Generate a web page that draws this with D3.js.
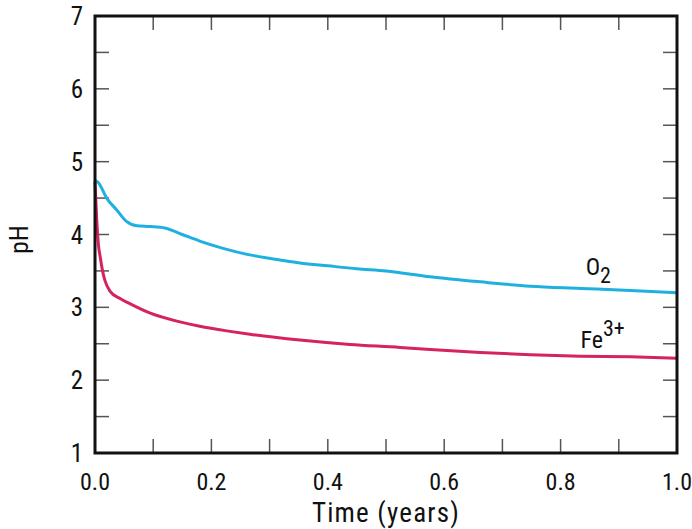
<!DOCTYPE html>
<html>
<head>
<meta charset="utf-8">
<script src="https://cdn.jsdelivr.net/npm/d3@7"></script>
<style>
  body { margin: 0; background: #fff; }
  text { font-family: "Liberation Sans Narrow", "Roboto Condensed", "Arial Narrow", sans-serif; fill: #111; }
</style>
</head>
<body>
<script>
// time (years) vs pH
var o2Time = [0, 0.005, 0.02, 0.037, 0.054, 0.072, 0.095, 0.12, 0.15, 0.18, 0.22, 0.266, 0.31, 0.352, 0.4, 0.45, 0.5, 0.576, 0.662, 0.748, 0.834, 0.92, 1.0];
var o2PH   = [4.74, 4.72, 4.50, 4.34, 4.18, 4.12, 4.11, 4.09, 4.0, 3.91, 3.81, 3.72, 3.66, 3.61, 3.57, 3.53, 3.50, 3.42, 3.35, 3.29, 3.26, 3.23, 3.20];

var feTime = [0, 0.003, 0.006, 0.009, 0.013, 0.017, 0.026, 0.043, 0.06, 0.095, 0.146, 0.18, 0.232, 0.266, 0.352, 0.438, 0.524, 0.576, 0.662, 0.748, 0.834, 0.92, 1.0];
var fePH   = [4.72, 4.2, 3.85, 3.69, 3.5, 3.37, 3.22, 3.12, 3.05, 2.92, 2.8, 2.74, 2.67, 2.63, 2.55, 2.49, 2.45, 2.42, 2.38, 2.35, 2.33, 2.32, 2.30];

var xTicks = [0, 0.2, 0.4, 0.6, 0.8, 1.0];
var yTicks = [1, 2, 3, 4, 5, 6, 7];

window.onload = () => {
  var margin = {top: 16, right: 15, bottom: 76, left: 95},
  width = 692 - margin.left - margin.right,
  height = 529 - margin.top - margin.bottom;

  var x = d3.scaleLinear().domain([0, 1]).range([0, width]);
  var y = d3.scaleLinear().domain([1, 7]).range([height, 0]);

  var svg = d3.select("body").append("svg")
    .attr("width", 692)
    .attr("height", 529)
    .append("g")
    .attr("transform", "translate(" + margin.left + "," + margin.top + ")");

  var minorX = d3.range(0, 11).map(d => d / 10);
  var minorY = d3.range(2, 13).map(d => d / 2 + 0.5);
  var tickLen = 14;

  // inward ticks on all four sides
  var ticks = svg.append("g").attr("stroke", "#555").attr("stroke-width", 1.5);
  ticks.selectAll(".xb").data(minorX).enter().append("line")
    .attr("x1", d => x(d)).attr("x2", d => x(d))
    .attr("y1", height).attr("y2", height - tickLen);
  ticks.selectAll(".xt").data(minorX).enter().append("line")
    .attr("x1", d => x(d)).attr("x2", d => x(d))
    .attr("y1", 0).attr("y2", tickLen);
  ticks.selectAll(".yl").data(minorY).enter().append("line")
    .attr("x1", 0).attr("x2", tickLen)
    .attr("y1", d => y(d)).attr("y2", d => y(d));
  ticks.selectAll(".yr").data(minorY).enter().append("line")
    .attr("x1", width).attr("x2", width - tickLen)
    .attr("y1", d => y(d)).attr("y2", d => y(d));

  var line = d3.line()
    .x(d => x(d[0]))
    .y(d => y(d[1]))
    .curve(d3.curveMonotoneX);

  svg.append("path")
    .datum(o2Time.map((t, i) => [t, o2PH[i]]))
    .attr("fill", "none")
    .attr("stroke", "#1fb0e0")
    .attr("stroke-width", 3)
    .attr("d", line);

  svg.append("path")
    .datum(feTime.map((t, i) => [t, fePH[i]]))
    .attr("fill", "none")
    .attr("stroke", "#d6225e")
    .attr("stroke-width", 3)
    .attr("d", line);

  // frame
  svg.append("rect")
    .attr("width", width).attr("height", height)
    .attr("fill", "none").attr("stroke", "#111").attr("stroke-width", 3);

  // tick labels
  svg.selectAll(".xl").data(xTicks).enter().append("text")
    .attr("x", d => x(d)).attr("y", height + 37)
    .attr("text-anchor", "middle")
    .style("font-size", "24px")
    .text(d => d.toFixed(1));

  svg.selectAll(".ylab").data(yTicks).enter().append("text")
    .attr("x", -12).attr("y", d => y(d) + 9)
    .attr("text-anchor", "end")
    .style("font-size", "25px")
    .text(d => d);

  // axis titles
  svg.append("text")
    .attr("x", width / 2).attr("y", height + 69)
    .attr("text-anchor", "middle")
    .style("font-size", "27px")
    .style("letter-spacing", "1.2px")
    .text("Time (years)");

  svg.append("text")
    .attr("transform", "translate(-67," + (height / 2 + 5) + ") rotate(-90)")
    .attr("text-anchor", "middle")
    .style("font-size", "26px")
    .text("pH");

  // series labels
  var o2Lab = svg.append("text")
    .attr("x", x(0.843)).attr("y", y(3.44))
    .style("font-size", "24px");
  o2Lab.append("tspan").text("O");
  o2Lab.append("tspan").attr("dy", 8).style("font-size", "22px").text("2");

  var feLab = svg.append("text")
    .attr("x", x(0.834)).attr("y", y(2.44))
    .style("font-size", "24px");
  feLab.append("tspan").text("Fe");
  feLab.append("tspan").attr("dy", -12).style("font-size", "22px").text("3+");
};
</script>
</body>
</html>
